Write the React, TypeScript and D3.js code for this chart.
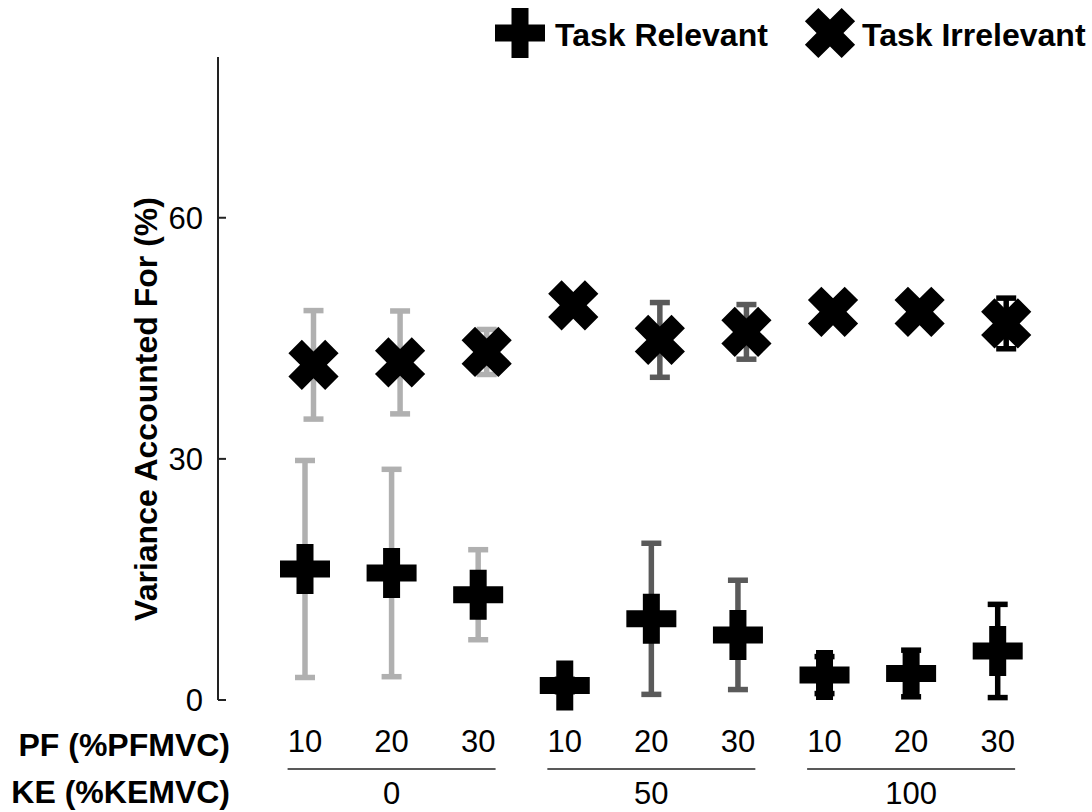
import React from "react";
import * as d3 from "d3";

const pfLabels = ["10", "20", "30", "10", "20", "30", "10", "20", "30"];
const keGroups = ["0", "50", "100"];
const groupOf = [0, 0, 0, 1, 1, 1, 2, 2, 2];
const relMean = [16.3, 15.8, 13.1, 1.8, 10.1, 8.1, 3.1, 3.3, 6.1];
const relErr = [13.5, 12.9, 5.6, 0.8, 9.4, 6.8, 2.3, 2.9, 5.8];
const irrMean = [41.7, 42.0, 43.3, 49.1, 44.8, 45.8, 48.3, 48.3, 46.85];
const irrErr = [6.75, 6.4, 2.8, 0.8, 4.65, 3.4, 0.8, 0.8, 3.15];
const yTicks = [0, 30, 60];
const groupColors = ["#b0b0b0", "#5a5a5a", "#000000"];

const FONT = "'Liberation Sans', Arial, Helvetica, sans-serif";

// custom symbol types (size is ignored; geometry fixed)
const plusType = {
  draw(ctx: any) {
    const a = 25, t = 8.5;
    ctx.moveTo(-t, -a);
    ctx.lineTo(t, -a);
    ctx.lineTo(t, -t);
    ctx.lineTo(a, -t);
    ctx.lineTo(a, t);
    ctx.lineTo(t, t);
    ctx.lineTo(t, a);
    ctx.lineTo(-t, a);
    ctx.lineTo(-t, t);
    ctx.lineTo(-a, t);
    ctx.lineTo(-a, -t);
    ctx.lineTo(-t, -t);
    ctx.closePath();
  },
};
const crossType = {
  draw(ctx: any) {
    const a = 26, t = 9.5;
    const pts = [
      [-t, -a], [t, -a], [t, -t], [a, -t], [a, t], [t, t],
      [t, a], [-t, a], [-t, t], [-a, t], [-a, -t], [-t, -t],
    ];
    const c = Math.SQRT1_2;
    pts.forEach(([x, y], i) => {
      const rx = c * x - c * y;
      const ry = c * x + c * y;
      if (i === 0) ctx.moveTo(rx, ry);
      else ctx.lineTo(rx, ry);
    });
    ctx.closePath();
  },
};

const plusPath = d3.symbol().type(plusType as any)() as string;
const crossPath = d3.symbol().type(crossType as any)() as string;

export default function App() {
  const W = 1092, H = 812;
  const idx = pfLabels.map((_, i) => String(i));
  const x = d3.scalePoint<string>().domain(idx).range([305, 997.7]);
  const y = d3.scaleLinear().domain([0, 80]).range([700, 57]);
  const xOff = 8.5;
  const capW = 20;

  const errBar = (cx: number, m: number, e: number, color: string, key: string) => (
    <g key={key} stroke={color} strokeWidth={5.5} fill="none">
      <line x1={cx} x2={cx} y1={y(m + e)} y2={y(m - e)} />
      <line x1={cx - capW / 2} x2={cx + capW / 2} y1={y(m + e)} y2={y(m + e)} />
      <line x1={cx - capW / 2} x2={cx + capW / 2} y1={y(m - e)} y2={y(m - e)} />
    </g>
  );

  return (
    <svg width={W} height={H} style={{ position: "absolute", left: 0, top: 0, background: "#fff" }} fontFamily={FONT}>
      <rect x={0} y={0} width={W} height={H} fill="#fff" />
      {/* y axis */}
      <line x1={218} x2={218} y1={y(80)} y2={y(0)} stroke="#222" strokeWidth={2} />
      {yTicks.map((t) => (
        <g key={t}>
          <line x1={218} x2={226} y1={y(t)} y2={y(t)} stroke="#222" strokeWidth={2} />
          <text x={203} y={y(t)} dy="0.36em" textAnchor="end" fontSize={31} fill="#000">
            {t}
          </text>
        </g>
      ))}
      <text
        transform={`translate(157,409) rotate(-90)`}
        textAnchor="middle"
        fontSize={32}
        fontWeight="bold"
        fill="#000"
      >
        Variance Accounted For (%)
      </text>

      {/* error bars */}
      {idx.map((k, i) => errBar(x(k)!, relMean[i], relErr[i], groupColors[groupOf[i]], "r" + i))}
      {idx.map((k, i) => errBar(x(k)! + xOff, irrMean[i], irrErr[i], groupColors[groupOf[i]], "i" + i))}

      {/* markers */}
      {idx.map((k, i) => (
        <path key={"pm" + i} d={plusPath} transform={`translate(${x(k)},${y(relMean[i])})`} fill="#000" />
      ))}
      {idx.map((k, i) => (
        <path key={"xm" + i} d={crossPath} transform={`translate(${x(k)! + xOff},${y(irrMean[i])})`} fill="#000" />
      ))}

      {/* x labels */}
      <text x={230} y={756} textAnchor="end" fontSize={32} fontWeight="bold" fill="#000">
        PF (%PFMVC)
      </text>
      {idx.map((k, i) => (
        <text key={"pf" + i} x={x(k)} y={752} textAnchor="middle" fontSize={31} fill="#000">
          {pfLabels[i]}
        </text>
      ))}
      {keGroups.map((g, gi) => {
        const members = idx.filter((_, i) => groupOf[i] === gi);
        const cx = (x(members[0])! + x(members[members.length - 1])!) / 2;
        return (
          <g key={"ke" + gi}>
            <line x1={cx - 104} x2={cx + 104} y1={769} y2={769} stroke="#222" strokeWidth={1.5} />
            <text x={cx} y={804} textAnchor="middle" fontSize={31} fill="#000">
              {g}
            </text>
          </g>
        );
      })}
      <text x={230} y={803} textAnchor="end" fontSize={32} fontWeight="bold" fill="#000">
        KE (%KEMVC)
      </text>

      {/* legend */}
      <path d={plusPath} transform="translate(520,33)" fill="#000" />
      <text x={555} y={46} fontSize={32} fontWeight="bold" fill="#000">Task Relevant</text>
      <path d={crossPath} transform="translate(830,33)" fill="#000" />
      <text x={862} y={46} fontSize={32} fontWeight="bold" fill="#000">Task Irrelevant</text>
    </svg>
  );
}
